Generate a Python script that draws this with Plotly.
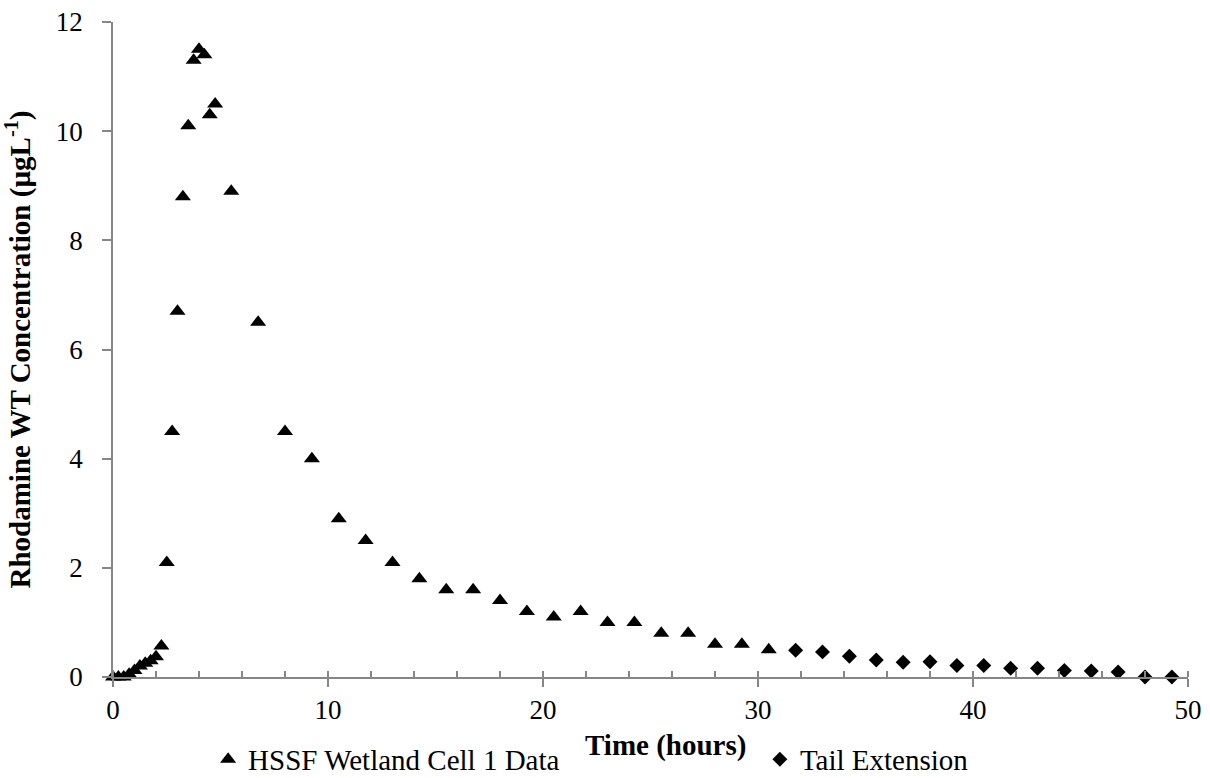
import plotly.graph_objects as go

# Measured data (HSSF wetland cell 1)
time_data = [0, 0.25, 0.5, 0.75, 1.0, 1.25, 1.5, 1.75, 2.0, 2.25, 2.5, 2.75, 3.0, 3.25,
             3.5, 3.75, 4.0, 4.25, 4.5, 4.75, 5.5, 6.75, 8.0, 9.25, 10.5, 11.75, 13.0,
             14.25, 15.5, 16.75, 18.0, 19.25, 20.5, 21.75, 23.0, 24.25, 25.5, 26.75,
             28.0, 29.25, 30.5]
conc_data = [0, 0, 0, 0.05, 0.12, 0.2, 0.25, 0.3, 0.37, 0.57, 2.1, 4.5, 6.7, 8.8,
             10.1, 11.3, 11.5, 11.4, 10.3, 10.5, 8.9, 6.5, 4.5, 4.0, 2.9, 2.5, 2.1,
             1.8, 1.6, 1.6, 1.4, 1.2, 1.1, 1.2, 1.0, 1.0, 0.8, 0.8,
             0.6, 0.6, 0.5]

# Tail extension
tail_time = [31.75, 33.0, 34.25, 35.5, 36.75, 38.0, 39.25, 40.5, 41.75, 43.0, 44.25,
             45.5, 46.75, 48.0, 49.25]
tail_conc = [0.49, 0.46, 0.38, 0.31, 0.27, 0.28, 0.21, 0.21, 0.16, 0.16, 0.12,
             0.11, 0.09, 0.0, 0.0]

series_names = ["HSSF Wetland Cell 1 Data", "Tail Extension"]
x_title = "<b>Time (hours)</b>"
y_title = "<b>Rhodamine WT Concentration (µgL<sup>-1</sup>)</b>"

FONT = "'Liberation Serif', 'Times New Roman', serif"
AXIS_COLOR = "#868686"

fig = go.Figure()
fig.add_trace(go.Scatter(
    x=time_data, y=conc_data, mode="markers", name=series_names[0],
    marker=dict(symbol="triangle-up", size=14, color="black", line=dict(width=0)),
    cliponaxis=False, legend="legend",
))
fig.add_trace(go.Scatter(
    x=tail_time, y=tail_conc, mode="markers", name=series_names[1],
    marker=dict(symbol="diamond", size=11.5, color="black", line=dict(width=0)),
    cliponaxis=False, legend="legend2",
))

legend_common = dict(
    orientation="h", xref="container", yref="container",
    xanchor="left", yanchor="middle",
    font=dict(family=FONT, size=29, color="black"),
    bgcolor="rgba(0,0,0,0)", borderwidth=0, itemwidth=30,
)

fig.update_layout(
    width=1210, height=778,
    margin=dict(l=113, r=22, t=22, b=101),
    plot_bgcolor="white", paper_bgcolor="white",
    font=dict(family=FONT, size=27, color="black"),
    showlegend=True,
    legend=dict(x=0.172, y=0.024, **legend_common),
    legend2=dict(x=0.628, y=0.024, **legend_common),
    xaxis=dict(
        range=[0, 50], tickmode="linear", tick0=0, dtick=10,
        showgrid=False, zeroline=False,
        showline=True, linecolor=AXIS_COLOR, linewidth=1.5,
        ticks="outside", ticklen=8, tickwidth=1.5, tickcolor=AXIS_COLOR,
        minor=dict(dtick=2, ticks="inside", ticklen=6, tickwidth=1.5,
                   tickcolor=AXIS_COLOR, showgrid=False),
        tickfont=dict(family=FONT, size=27, color="black"),
        automargin=False,
    ),
    yaxis=dict(
        range=[0, 12], tickmode="linear", tick0=0, dtick=2,
        showgrid=False, zeroline=False,
        showline=True, linecolor=AXIS_COLOR, linewidth=1.5,
        ticks="outside", ticklen=9, tickwidth=1.5, tickcolor=AXIS_COLOR,
        ticklabelstandoff=14,
        tickfont=dict(family=FONT, size=27, color="black"),
        title=dict(text=y_title, font=dict(family=FONT, size=29, color="black"), standoff=18),
        automargin=False,
    ),
    annotations=[dict(
        text=x_title, xref="paper", yref="paper", x=0.5135, y=-0.104,
        xanchor="center", yanchor="middle", showarrow=False,
        font=dict(family=FONT, size=29, color="black"),
    )],
)

fig.write_html("out.html")
